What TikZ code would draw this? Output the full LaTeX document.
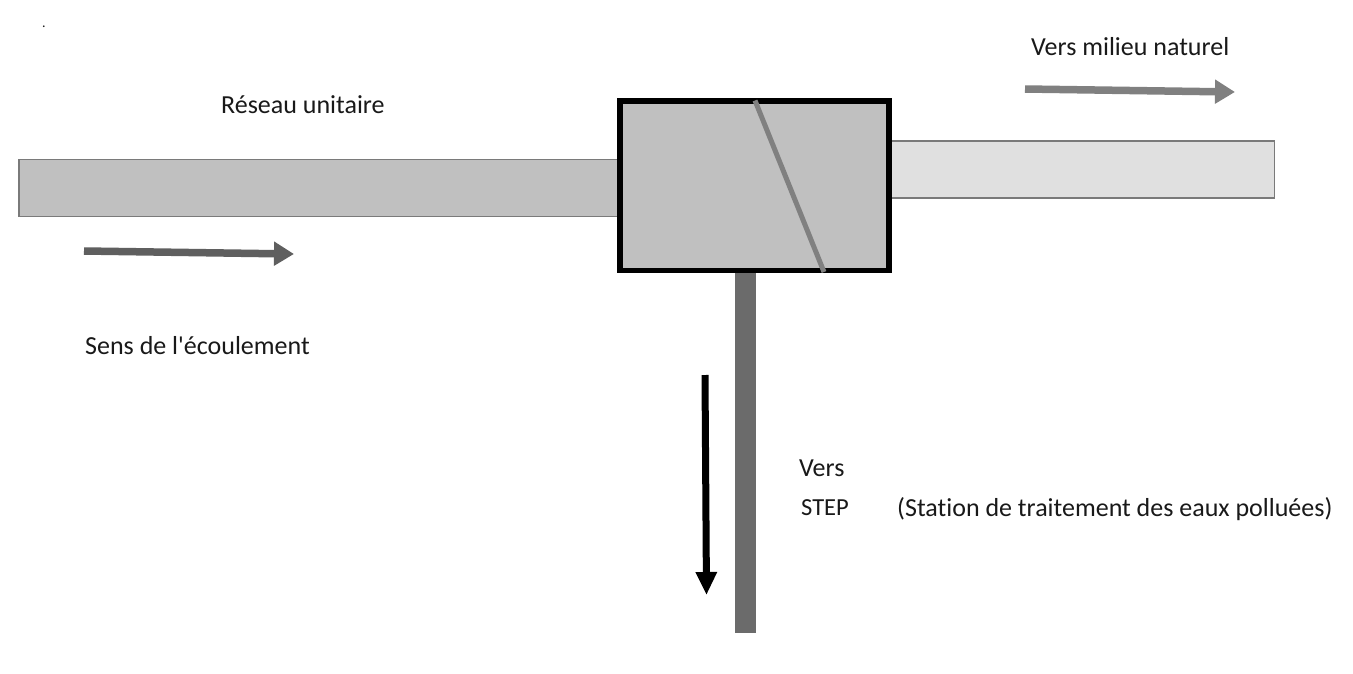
\documentclass[tikz,border=0pt]{standalone}
\usepackage{fontspec}
\setmainfont[Ligatures=NoCommon]{Carlito}
\usetikzlibrary{arrows.meta}
\definecolor{pipeA}{HTML}{C0C0C0}
\definecolor{pipeB}{HTML}{E0E0E0}
\definecolor{pipeC}{HTML}{6B6B6B}
\definecolor{edgeG}{HTML}{7A7A7A}
\definecolor{arrowA}{HTML}{5F5F5F}
\definecolor{arrowB}{HTML}{808080}
\tikzset{
  pipebox/.style={rectangle,anchor=north west,inner sep=0pt,outer sep=0pt,draw=edgeG,line width=1.5pt},
  flowarrow/.style={line width=7.5pt,-{Triangle[length=20pt,width=23pt]}},
  blackarrow/.style={line width=7pt,-{Triangle[length=23pt,width=20pt]}},
  lbl/.style={anchor=base west,inner sep=0pt,font=\fontsize{26}{30}\selectfont,text=black!90}
}
\begin{document}
\begin{tikzpicture}[x=1pt,y=-1pt]
\useasboundingbox[fill=white] (0,0) rectangle (1353,673);
% pipes
\node[pipebox,fill=pipeA,minimum width=600pt,minimum height=57pt] (reseau) at (18.8,159.6) {};
\node[pipebox,fill=pipeB,minimum width=386pt,minimum height=57pt] (milieu) at (888.5,141) {};
\node[pipebox,fill=pipeC,draw=none,minimum width=20.5pt,minimum height=362pt] (step) at (735.2,271) {};
% chamber
\node[rectangle,anchor=north west,inner sep=0pt,outer sep=0pt,fill=pipeA,draw=black,line width=5.5pt,minimum width=269pt,minimum height=169.5pt] (chamber) at (619.75,100.75) {};
% weir
\coordinate (weirA) at (755,100.5);
\coordinate (weirB) at (824,272);
\draw[line width=5pt,color=arrowB] (weirA) -- (weirB);
% flow arrows
\coordinate (a1s) at (84,251);
\coordinate (a1e) at (294,254);
\draw[flowarrow,color=arrowA] (a1s) -- (a1e);
\coordinate (a2s) at (1025,89);
\coordinate (a2e) at (1235,92);
\draw[flowarrow,color=arrowB] (a2s) -- (a2e);
\coordinate (a3s) at (705,375);
\coordinate (a3e) at (706.5,595);
\draw[blackarrow,color=black] (a3s) -- (a3e);
% labels
\node[lbl] (t1) at (221,113) {Réseau unitaire};
\node[lbl] (t2) at (85,354) {Sens de l\textquotesingle écoulement};
\node[lbl] (t3) at (1031,55) {Vers milieu naturel};
\node[lbl] (t4) at (799,476.5) {Vers};
\node[lbl,font=\fontsize{24.5}{30}\selectfont] (t5) at (801,515) {STEP};
\node[lbl] (t6) at (897,516) {(Station de traitement des eaux polluées)};
\node[lbl,font=\fontsize{14}{16}\selectfont] (t0) at (42,27) {.};
\end{tikzpicture}
\end{document}
